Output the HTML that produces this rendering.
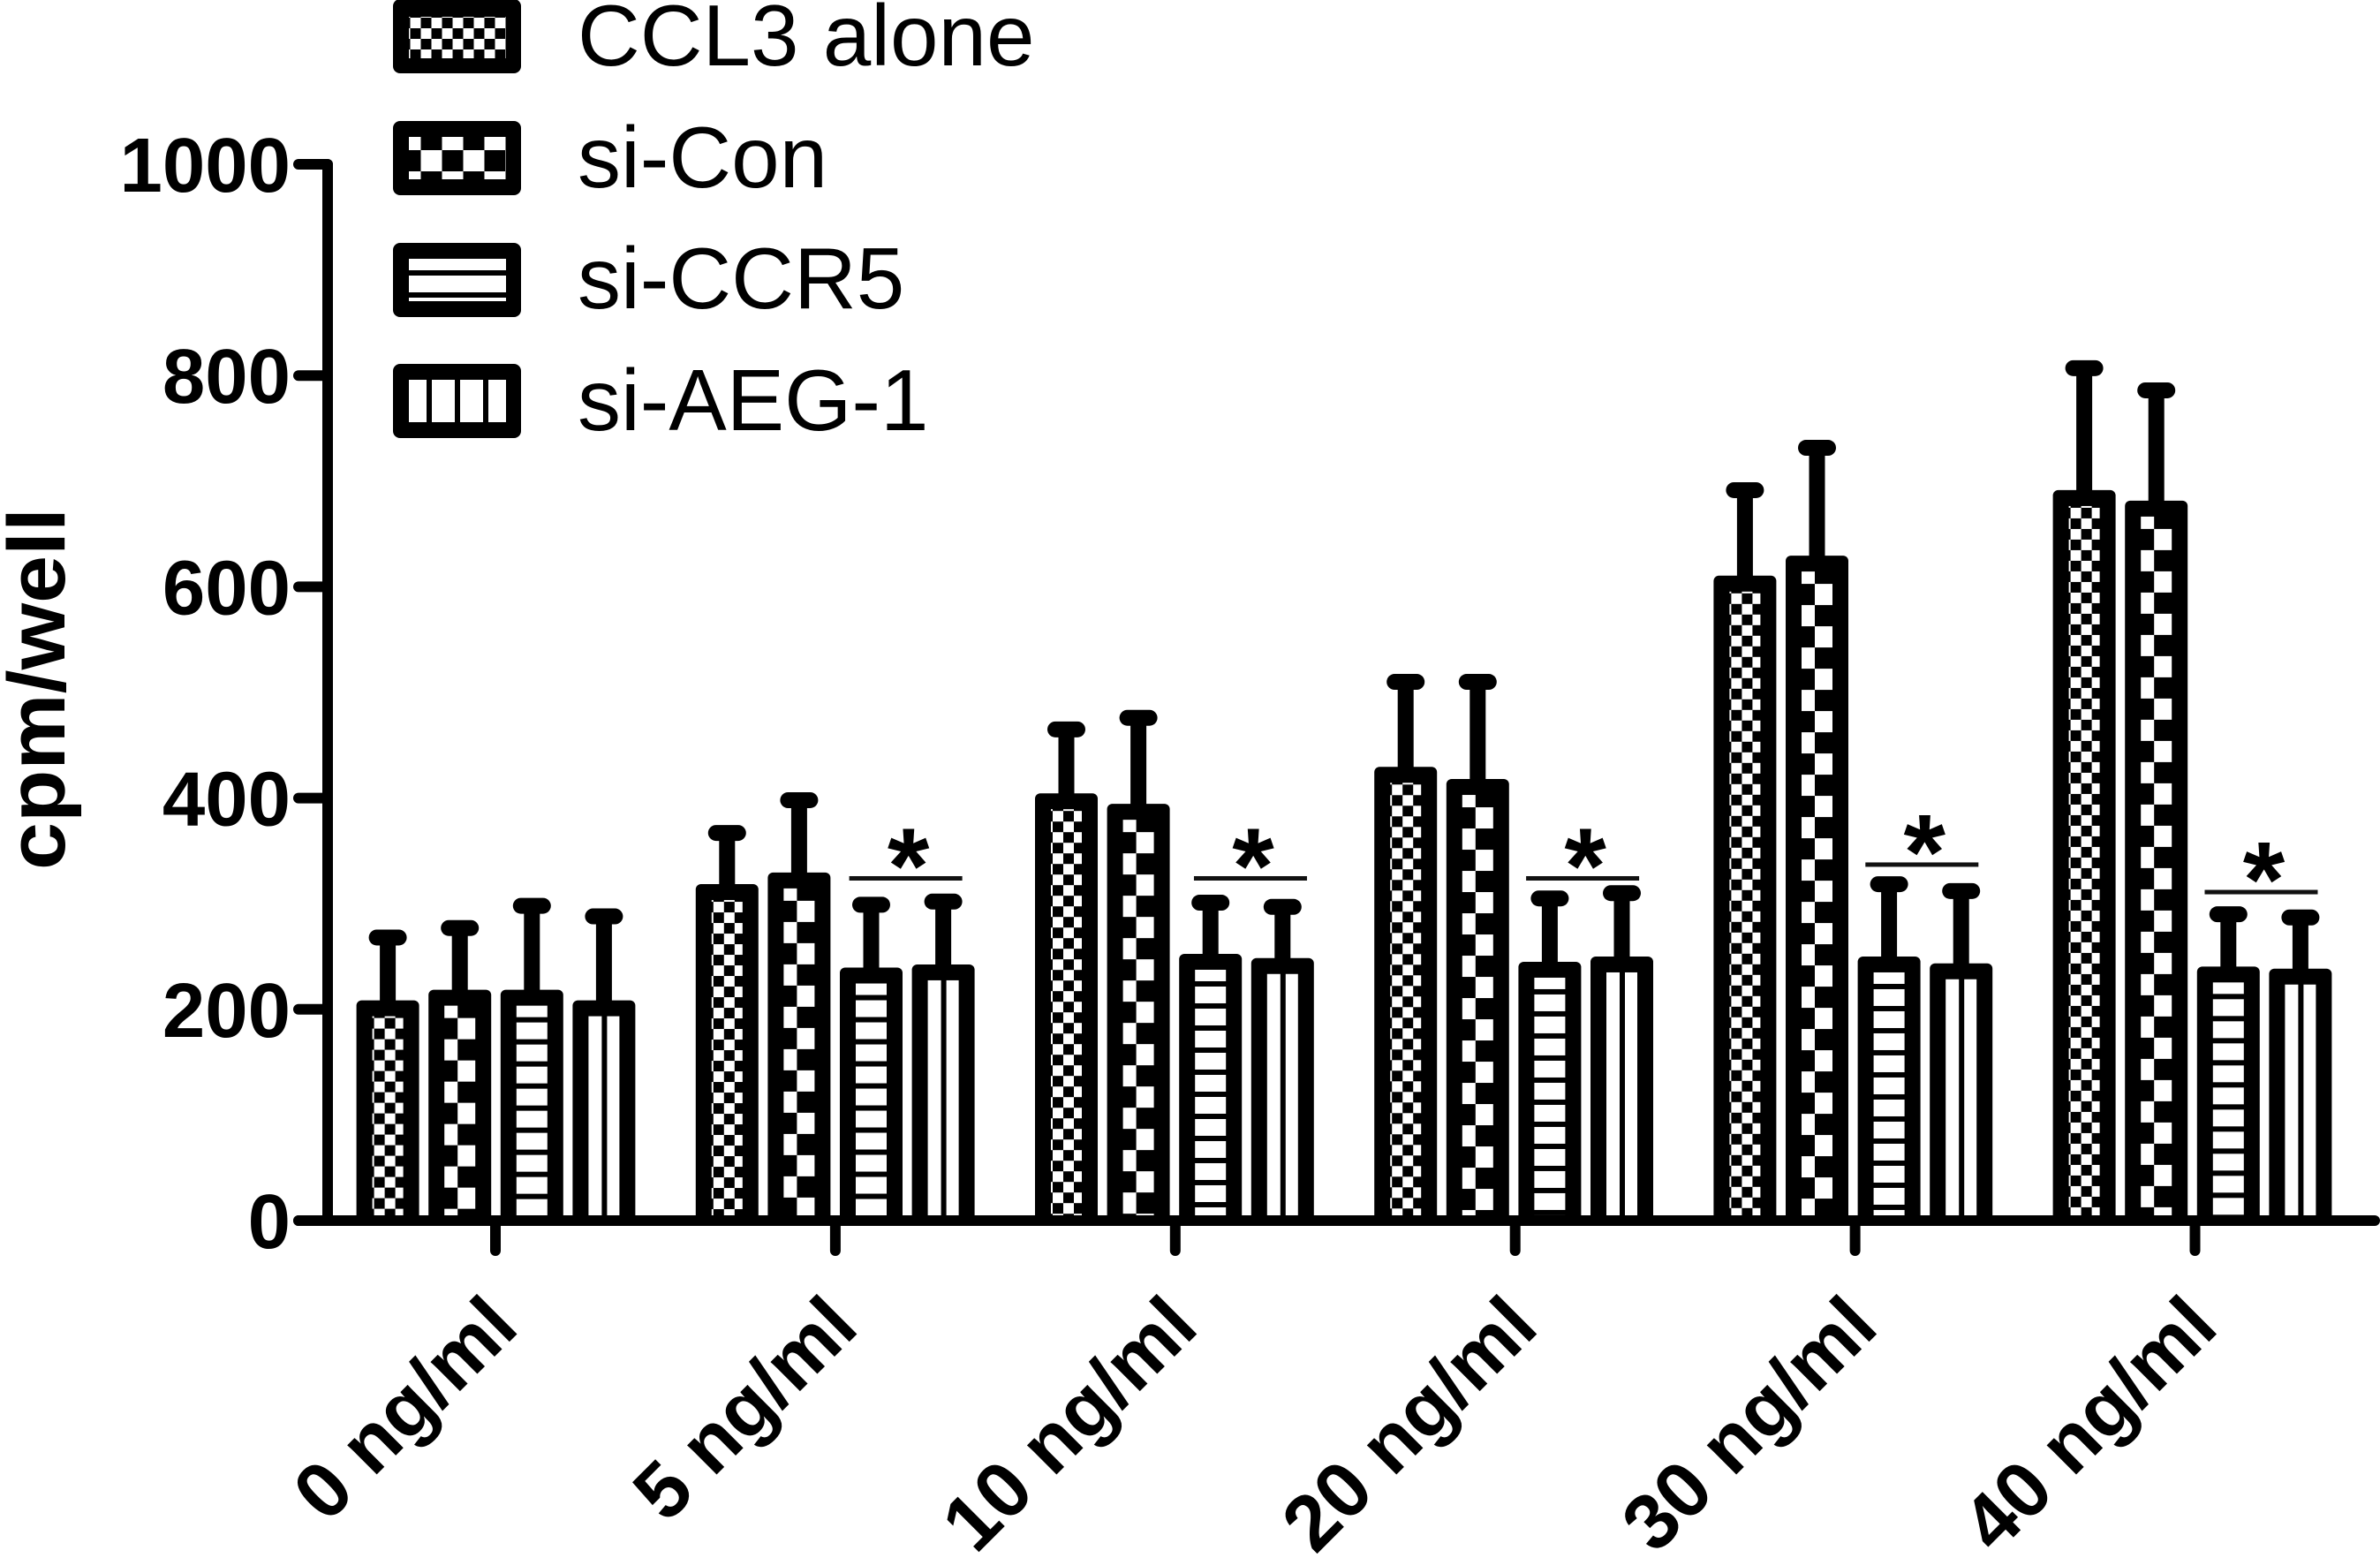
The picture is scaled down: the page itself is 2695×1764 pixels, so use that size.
<!DOCTYPE html>
<html lang="en">
<head>
<meta charset="utf-8">
<title>cpm/well by CCL3 concentration</title>
<style>
html,body{margin:0;padding:0;background:#fff;}
svg{display:block;}
text{font-family:"Liberation Sans",Arial,sans-serif;fill:#000;}
.tick{font-weight:bold;font-size:87px;}
.xtick{font-weight:bold;font-size:89px;}
.legend{font-size:98px;}
</style>
</head>
<body>
<svg id="chart" xmlns="http://www.w3.org/2000/svg" width="2695" height="1764" viewBox="0 0 2695 1764">
  <rect x="0" y="0" width="2695" height="1764" fill="#fff"/>
  <defs id="defs">
    <pattern id="leg-ccl3" patternUnits="userSpaceOnUse" x="464.5" y="20" width="24" height="24">
      <rect width="24" height="24" fill="#fff"/><rect x="12" y="0" width="12" height="12" fill="#000"/><rect x="0" y="12" width="12" height="12" fill="#000"/>
    </pattern>
    <pattern id="leg-con" patternUnits="userSpaceOnUse" x="452.5" y="146" width="48" height="48">
      <rect width="48" height="48" fill="#fff"/><rect x="24" y="0" width="24" height="24" fill="#000"/><rect x="0" y="24" width="24" height="24" fill="#000"/>
    </pattern>
    <pattern id="leg-ccr5" patternUnits="userSpaceOnUse" x="0" y="306" width="10" height="25">
      <rect width="10" height="25" fill="#fff"/><rect width="10" height="6" fill="#000"/>
    </pattern>
    <pattern id="leg-aeg" patternUnits="userSpaceOnUse" x="483" y="0" width="32" height="10">
      <rect width="32" height="10" fill="#fff"/><rect width="6" height="10" fill="#000"/>
    </pattern>
  </defs>

  <g id="bars"></g>
  <g id="axes"></g>
  <g id="annotations"></g>

  <text transform="translate(73 985) rotate(-90)" font-weight="bold" font-size="92" textLength="410" lengthAdjust="spacingAndGlyphs">cpm/well</text>

  <g>
    <g>
      <rect x="445" y="-1" width="145" height="84" rx="8" fill="#000"/>
      <rect x="463" y="19" width="110" height="47" fill="url(#leg-ccl3)"/>
      <text class="legend" x="654" y="74">CCL3 alone</text>
    </g>
    <g>
      <rect x="445" y="137" width="145" height="84" rx="8" fill="#000"/>
      <rect x="463" y="155" width="110" height="48" fill="url(#leg-con)"/>
      <text class="legend" x="654" y="212">si-Con</text>
    </g>
    <g>
      <rect x="445" y="275" width="145" height="84" rx="8" fill="#000"/>
      <rect x="463" y="293" width="110" height="48" fill="url(#leg-ccr5)"/>
      <text class="legend" x="654" y="349">si-CCR5</text>
    </g>
    <g>
      <rect x="445" y="412" width="145" height="84" rx="8" fill="#000"/>
      <rect x="463" y="430" width="110" height="48" fill="url(#leg-aeg)"/>
      <text class="legend" x="654" y="487">si-AEG-1</text>
    </g>
  </g>
</svg>

<script>
// ---- chart data ----
const categories = ['0 ng/ml', '5 ng/ml', '10 ng/ml', '20 ng/ml', '30 ng/ml', '40 ng/ml'];
const yTickLabels = [0, 200, 400, 600, 800, 1000];
const ccl3Values = [201, 311, 397, 422, 603, 684];
const ccl3Errors = [67, 56, 68, 88, 88.5, 123];
const siConValues = [211, 322, 387, 410.5, 622, 674];
const siConErrors = [66, 76, 89, 99.5, 109.6, 112];
const siCcr5Values = [211, 232, 245, 237.5, 242.5, 233];
const siCcr5Errors = [87, 67, 56, 67.5, 76, 57];
const siAegValues = [201, 235, 241, 242.5, 236, 231];
const siAegErrors = [87, 67, 56, 67.5, 76, 56];
const sigCategories = [1, 2, 3, 4, 5];
const sigLevels = [324, 324, 324, 337, 311];
const sigCategoryOffsets = [0.208, 0.224, 0.203, 0.203, 0.203];

const NS = 'http://www.w3.org/2000/svg';
const barsLayer = document.getElementById('bars');
const axesLayer = document.getElementById('axes');
const annoLayer = document.getElementById('annotations');
const defsLayer = document.getElementById('defs');

function yScale(v) { return 1382 - v * 1.196; }
function xScale(i) { return 561.5 + i * 384.2; }
function xTickScale(i) { return 561 + i * 384.9; }

function make(tag, attrs, parent) {
  const el = document.createElementNS(NS, tag);
  for (const k in attrs) el.setAttribute(k, attrs[k]);
  parent.appendChild(el);
  return el;
}

function makePattern(id, kind, innerX, innerY) {
  let px = 0, py = 0, w = 24, h = 24, cells = [];
  if (kind === 'ccl3') {
    px = innerX + 2; py = innerY + 2; w = 24; h = 24;
    cells = [[12, 0, 12, 12], [0, 12, 12, 12]];
  } else if (kind === 'con') {
    px = innerX - 9; py = innerY - 10; w = 48; h = 48;
    cells = [[24, 0, 24, 24], [0, 24, 24, 24]];
  } else if (kind === 'ccr5') {
    px = 0; py = innerY + 13; w = 10; h = 25;
    cells = [[0, 0, 10, 6]];
  } else {
    px = innerX + 15; py = 0; w = 32; h = 10;
    cells = [[0, 0, 6, 10]];
  }
  const p = make('pattern', { id: id, patternUnits: 'userSpaceOnUse', x: px, y: py, width: w, height: h }, defsLayer);
  make('rect', { width: w, height: h, fill: '#fff' }, p);
  cells.forEach(function (c) {
    make('rect', { x: c[0], y: c[1], width: c[2], height: c[3], fill: '#000' }, p);
  });
}

function drawSeries(key, values, errors, seriesIndex) {
  values.forEach(function (v, i) {
    const cx = xScale(i) + (seriesIndex - 1.5) * 81.6;
    const top = yScale(v);
    const base = yScale(0);
    const capY = yScale(v + errors[i]);

    const stem = make('rect', { x: cx - 9, y: capY, width: 18, height: top - capY, fill: '#000' }, barsLayer);
    
    

    const cap = make('rect', { x: cx - 21.5, y: capY - 9, width: 43, height: 18, rx: 9, fill: '#000' }, barsLayer);
    
    

    const outer = make('rect', { x: cx - 35.5, y: top - 9, width: 71, height: base - top + 9, rx: 6, fill: '#000' }, barsLayer);
    
    

    const ix = cx - 17.5, iy = top + 9;
    const pid = 'pat-' + key + '-' + i;
    makePattern(pid, key, ix, iy);
    const inner = make('rect', { x: ix, y: iy, width: 35, height: Math.max(0, base - iy), fill: 'url(#' + pid + ')' }, barsLayer);
    
    
  });
}

drawSeries('ccl3', ccl3Values, ccl3Errors, 0);
drawSeries('con', siConValues, siConErrors, 1);
drawSeries('ccr5', siCcr5Values, siCcr5Errors, 2);
drawSeries('aeg', siAegValues, siAegErrors, 3);

// axes
const yAxisLine = make('line', { x1: 371, x2: 371, y1: yScale(1000), y2: yScale(0), stroke: '#000', 'stroke-width': 12, 'stroke-linecap': 'round' }, axesLayer);



const xAxisLine = make('line', { x1: 338, x2: 2689, y1: yScale(0), y2: yScale(0), stroke: '#000', 'stroke-width': 12, 'stroke-linecap': 'round' }, axesLayer);



yTickLabels.forEach(function (t) {
  const y = yScale(t);
  const tick = make('line', { x1: 338, x2: 371, y1: y, y2: y, stroke: '#000', 'stroke-width': 12, 'stroke-linecap': 'round' }, axesLayer);
  
  
  const label = make('text', { class: 'tick', x: 329, y: y + 31, 'text-anchor': 'end' }, axesLayer);
  
  
  label.textContent = String(t);
});

categories.forEach(function (c, i) {
  const x = xTickScale(i);
  const tick = make('line', { x1: x, x2: x, y1: yScale(0), y2: 1416, stroke: '#000', 'stroke-width': 12, 'stroke-linecap': 'round' }, axesLayer);
  
  
  const ax = x + 29, ay = 1506;
  const label = make('text', { class: 'xtick', x: ax, y: ay, 'text-anchor': 'end', transform: 'rotate(-45 ' + ax + ' ' + ay + ')' }, axesLayer);
  
  
  label.textContent = c;
});

// significance markers: span runs over the si-CCR5 / si-AEG-1 bars
sigCategories.forEach(function (cat, n) {
  const centre = xScale(cat + sigCategoryOffsets[n]);
  const y = yScale(sigLevels[n]);
  const line = make('rect', { x: centre - 64, y: y - 2.5, width: 128, height: 5, fill: '#111' }, annoLayer);
  
  
  const star = make('text', { x: centre + 3, y: y + 27.5, 'text-anchor': 'middle', 'font-size': 122, 'font-weight': 'bold' }, annoLayer);
  
  
  star.textContent = '*';
});
</script>
</body>
</html>
